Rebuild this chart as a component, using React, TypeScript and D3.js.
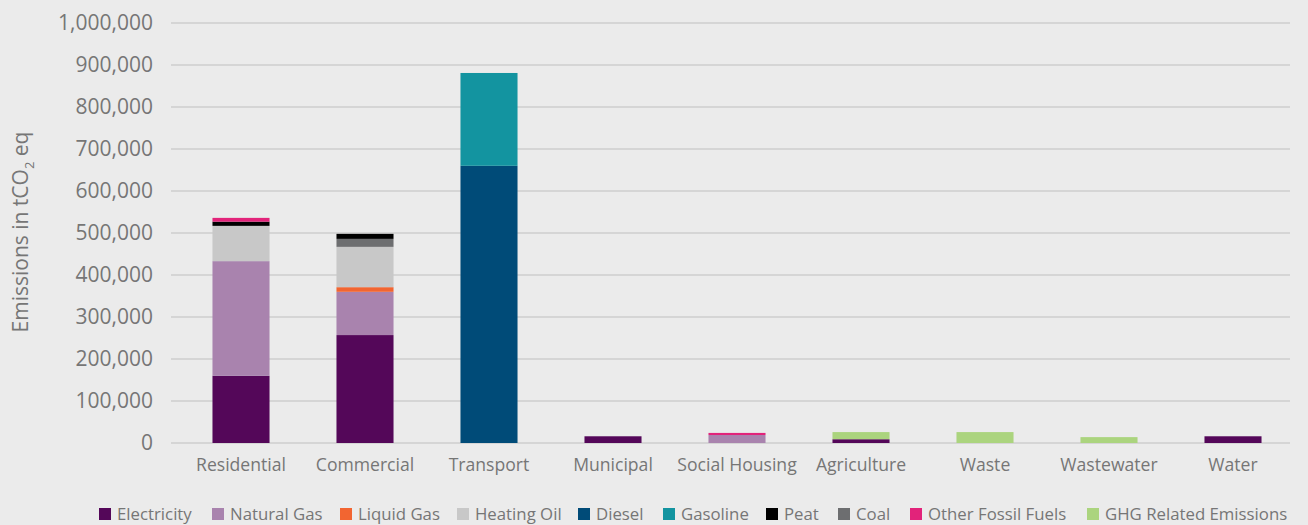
import React from "react";
import * as d3 from "d3";

const categories = ["Residential", "Commercial", "Transport", "Municipal", "Social Housing", "Agriculture", "Waste", "Wastewater", "Water"];
const seriesNames = ["Electricity", "Natural Gas", "Liquid Gas", "Heating Oil", "Diesel", "Gasoline", "Peat", "Coal", "Other Fossil Fuels", "GHG Related Emissions"];
const seriesColors = ["#540759", "#A983AE", "#F26531", "#C8C8C8", "#004B78", "#1394A0", "#000000", "#6D6E70", "#E2237A", "#ABD47E"];
// drawing order of the stacked segments (bottom to top), as seen in the picture
const stackOrder = ["Electricity", "Natural Gas", "Liquid Gas", "Heating Oil", "Diesel", "Gasoline", "Coal", "Peat", "Other Fossil Fuels", "GHG Related Emissions"];

const electricity = [160000, 257000, 0, 16000, 0, 9000, 0, 0, 16000];
const naturalGas = [273000, 103000, 0, 0, 19000, 0, 0, 0, 0];
const liquidGas = [0, 11000, 0, 0, 0, 0, 0, 0, 0];
const heatingOil = [84000, 96000, 0, 0, 0, 0, 0, 0, 0];
const diesel = [0, 0, 660000, 0, 0, 0, 0, 0, 0];
const gasoline = [0, 0, 221000, 0, 0, 0, 0, 0, 0];
const peat = [10000, 12000, 0, 0, 0, 0, 0, 0, 0];
const coal = [0, 19000, 0, 0, 0, 0, 0, 0, 0];
const otherFossil = [9000, 0, 0, 0, 5000, 0, 0, 0, 0];
const ghgRelated = [0, 0, 0, 0, 0, 17000, 26000, 14000, 0];

const yTicks = [0, 100000, 200000, 300000, 400000, 500000, 600000, 700000, 800000, 900000, 1000000];

const W = 1308, H = 525;
const FONT = "'Open Sans', 'Noto Sans', sans-serif";
const TEXT = "#767676";

export default function App() {
  const seriesValues = [electricity, naturalGas, liquidGas, heatingOil, diesel, gasoline, peat, coal, otherFossil, ghgRelated];
  const rows = categories.map((c, i) => {
    const r: any = { cat: c };
    seriesNames.forEach((s, j) => (r[s] = seriesValues[j][i]));
    return r;
  });
  const stack = d3.stack<any>().keys(stackOrder)(rows);
  const colorOf = d3.scaleOrdinal<string, string>().domain(seriesNames).range(seriesColors);

  const x = d3.scaleBand().domain(categories).range([179, 1295]).paddingInner(0.54).paddingOuter(0.27);
  const y = d3.scaleLinear().domain([0, 1000000]).range([443, 23]);
  const fmt = d3.format(",");

  const legendX = [99, 212, 340, 457, 578, 663, 766, 838, 910, 1087];

  return (
    <svg width={W} height={H} style={{ position: "absolute", left: 0, top: 0, background: "#EBEBEB" }}>
      <rect x={0} y={0} width={W} height={H} fill="#EBEBEB" />
      {yTicks.map((t) => (
        <g key={t}>
          <line x1={171} x2={1290} y1={y(t)} y2={y(t)} stroke="#D5D5D5" strokeWidth={2} />
          <text x={153} y={y(t)} dy="0.35em" textAnchor="end" fontFamily={FONT} fontSize={21} fill={TEXT}>
            {fmt(t)}
          </text>
        </g>
      ))}
      <text transform={`translate(21,232) rotate(-90)`} textAnchor="middle" fontFamily={FONT} fontSize={21} fill={TEXT} dy="0.35em">
        Emissions in tCO<tspan fontSize={13} dy="6">2</tspan><tspan dy="-6"> eq</tspan>
      </text>
      {stack.map((s) => (
        <g key={s.key} fill={colorOf(s.key)}>
          {s.map((d, i) =>
            d[1] - d[0] > 0 ? (
              <rect key={i} x={x(categories[i])} width={x.bandwidth()} y={y(d[1])} height={y(d[0]) - y(d[1])} />
            ) : null
          )}
        </g>
      ))}
      {categories.map((c) => (
        <text key={c} x={(x(c) as number) + x.bandwidth() / 2} y={465} dy="0.35em" textAnchor="middle" fontFamily={FONT} fontSize={17.6} fill={TEXT}>
          {c}
        </text>
      ))}
      {seriesNames.map((s, j) => (
        <g key={s} transform={`translate(${legendX[j]},514)`}>
          <rect x={0} y={-6} width={12} height={12} fill={seriesColors[j]} />
          <text x={18} y={0} dy="0.35em" fontFamily={FONT} fontSize={16.8} fill={TEXT}>
            {s}
          </text>
        </g>
      ))}
    </svg>
  );
}
